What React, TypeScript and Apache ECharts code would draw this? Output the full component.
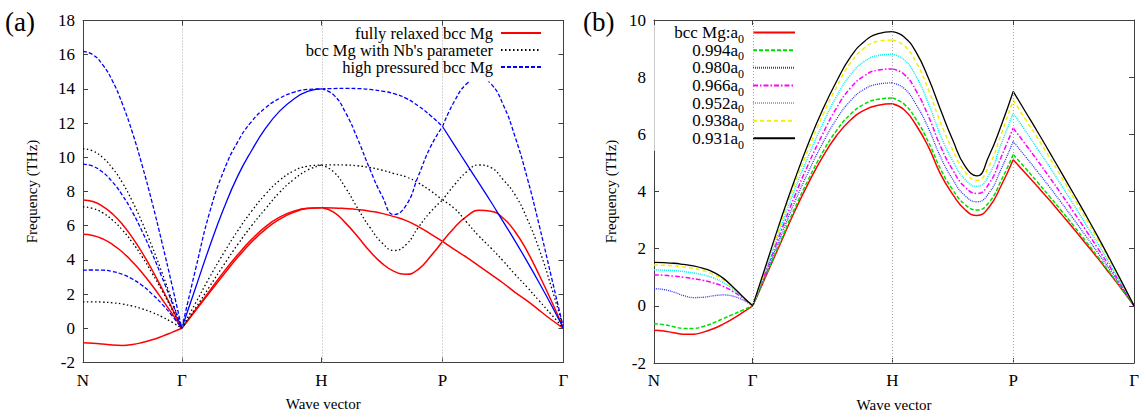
import { useEffect, useRef } from 'react';
import * as echarts from 'echarts';

// ---------- path / tick data ----------
const kPoints = [0, 0.7071, 1.7071, 2.5731, 3.4391];
const kLabels = ['N', 'Γ', 'H', 'P', 'Γ'];
const leftYTicks = { min: -2, max: 18, step: 2 };
const rightYTicks = { min: -2, max: 10, step: 2 };

const LEFT_NAMES = ['fully relaxed bcc Mg', "bcc Mg with Nb's parameter", 'high pressured bcc Mg'];
const RIGHT_NAMES = ['bcc Mg:a0', '0.994a0', '0.980a0', '0.966a0', '0.952a0', '0.938a0', '0.931a0'];

// ---------- panel (a): fully relaxed bcc Mg ----------
const relaxedNG_a = [7.5, 7.41, 7.13, 6.68, 6.07, 5.3, 4.41, 3.41, 2.32, 1.18, 0];
const relaxedNG_b = [5.5, 5.43, 5.23, 4.9, 4.45, 3.89, 3.23, 2.5, 1.7, 0.87, 0];
const relaxedNG_c = [-0.85, -0.87, -0.92, -0.98, -1.0, -0.95, -0.83, -0.67, -0.47, -0.24, 0];
const relaxedGH_a = [0, 1.1, 2.2, 3.3, 4.3, 5.2, 5.95, 6.5, 6.85, 7.02, 7.05];
const relaxedGH_b = [0, 1.05, 2.1, 3.15, 4.15, 5.05, 5.8, 6.38, 6.78, 7.0, 7.05];
const relaxedHP_a = [7.05, 7.04, 7.0, 6.94, 6.85, 6.72, 6.53, 6.3, 5.95, 5.52, 5.08];
const relaxedHP_b = [7.05, 6.8, 6.15, 5.35, 4.5, 3.8, 3.33, 3.16, 3.45, 4.2, 5.08];
const relaxedPG_a = [5.08, 4.6, 4.15, 3.65, 3.15, 2.65, 2.1, 1.6, 1.05, 0.5, 0];
const relaxedPG_b = [5.08, 5.9, 6.55, 6.9, 6.85, 6.45, 5.65, 4.5, 3.1, 1.6, 0];

// ---------- panel (a): bcc Mg with Nb's parameter ----------
const nbNG_a = [10.5, 10.37, 9.98, 9.35, 8.5, 7.42, 6.17, 4.77, 3.25, 1.65, 0];
const nbNG_b = [7.1, 7.01, 6.75, 6.32, 5.74, 5.02, 4.17, 3.22, 2.2, 1.12, 0];
const nbNG_c = [1.55, 1.55, 1.53, 1.49, 1.42, 1.3, 1.14, 0.93, 0.67, 0.36, 0];
const nbGH_a = [0, 1.5, 3.0, 4.4, 5.7, 6.85, 7.85, 8.65, 9.2, 9.48, 9.55];
const nbGH_b = [0, 1.2, 2.45, 3.7, 4.9, 6.0, 7.0, 7.95, 8.7, 9.25, 9.55];
const nbHP_a = [9.55, 9.56, 9.55, 9.5, 9.4, 9.25, 9.05, 8.85, 8.5, 8.05, 7.5];
const nbHP_b = [9.55, 9.15, 8.2, 7.0, 5.9, 5.0, 4.55, 4.9, 5.9, 6.8, 7.5];
const nbPG_a = [7.5, 7.0, 6.2, 5.4, 4.7, 3.95, 3.15, 2.4, 1.6, 0.8, 0];
const nbPG_b = [7.5, 8.4, 9.15, 9.55, 9.4, 8.7, 7.8, 6.4, 4.6, 2.4, 0];

// ---------- panel (a): high pressured bcc Mg ----------
const hpNG_a = [16.2, 16.0, 15.4, 14.45, 13.1, 11.45, 9.5, 7.35, 5.0, 2.55, 0];
const hpNG_b = [9.6, 9.48, 9.12, 8.55, 7.77, 6.8, 5.65, 4.37, 2.98, 1.52, 0];
const hpNG_c = [3.4, 3.41, 3.4, 3.32, 3.15, 2.88, 2.5, 2.0, 1.42, 0.75, 0];
const hpGH_a = [0, 3.5, 6.8, 9.2, 10.9, 12.1, 12.9, 13.45, 13.8, 13.97, 14.0];
const hpGH_b = [0, 2.4, 4.8, 7.0, 8.9, 10.4, 11.7, 12.7, 13.4, 13.85, 14.0];
const hpHP_a = [14.0, 14.02, 14.03, 14.02, 13.97, 13.87, 13.72, 13.45, 13.0, 12.45, 11.8];
const hpHP_b = [14.0, 13.65, 12.6, 11.05, 9.3, 7.75, 6.65, 7.2, 8.9, 10.6, 11.8];
const hpPG_a = [11.8, 10.7, 9.6, 8.5, 7.4, 6.25, 5.1, 3.9, 2.65, 1.35, 0];
const hpPG_b = [11.8, 13.3, 14.3, 14.65, 14.3, 13.1, 11.2, 8.8, 6.0, 3.0, 0];

// ---------- panel (b): one branch per lattice parameter, per path segment ----------
const a0_NG = [-0.85, -0.88, -0.94, -0.99, -0.99, -0.92, -0.8, -0.64, -0.45, -0.23, 0];
const a0_GH = [0, 1.1, 2.2, 3.3, 4.3, 5.2, 5.95, 6.5, 6.85, 7.02, 7.07];
const a0_HP = [7.07, 6.85, 6.3, 5.55, 4.6, 3.9, 3.37, 3.16, 3.45, 4.2, 5.11];
const a0_PG = [5.11, 4.65, 4.18, 3.7, 3.2, 2.7, 2.18, 1.66, 1.12, 0.57, 0];

const a994_NG = [-0.62, -0.66, -0.73, -0.79, -0.79, -0.72, -0.6, -0.45, -0.3, -0.15, 0];
const a994_GH = [0, 1.13, 2.27, 3.4, 4.43, 5.36, 6.13, 6.7, 7.06, 7.23, 7.27];
const a994_HP = [7.27, 7.05, 6.5, 5.72, 4.78, 4.06, 3.55, 3.35, 3.62, 4.38, 5.29];
const a994_PG = [5.29, 4.82, 4.33, 3.83, 3.32, 2.8, 2.26, 1.72, 1.16, 0.59, 0];

const a980_NG = [0.6, 0.57, 0.48, 0.36, 0.29, 0.3, 0.35, 0.38, 0.34, 0.2, 0];
const a980_GH = [0, 1.2, 2.42, 3.62, 4.7, 5.68, 6.53, 7.17, 7.58, 7.76, 7.8];
const a980_HP = [7.8, 7.6, 7.02, 6.2, 5.2, 4.42, 3.86, 3.64, 3.95, 4.78, 5.75];
const a980_PG = [5.75, 5.23, 4.7, 4.16, 3.6, 3.03, 2.45, 1.86, 1.26, 0.64, 0];

const a966_NG = [1.08, 1.07, 1.04, 1.0, 0.95, 0.89, 0.8, 0.68, 0.5, 0.27, 0];
const a966_GH = [0, 1.28, 2.57, 3.83, 4.97, 6.0, 6.92, 7.62, 8.05, 8.25, 8.29];
const a966_HP = [8.29, 8.09, 7.5, 6.62, 5.57, 4.75, 4.16, 3.93, 4.27, 5.2, 6.22];
const a966_PG = [6.22, 5.66, 5.09, 4.5, 3.9, 3.28, 2.65, 2.01, 1.36, 0.69, 0];

const a952_NG = [1.26, 1.25, 1.23, 1.2, 1.15, 1.08, 0.98, 0.82, 0.58, 0.3, 0];
const a952_GH = [0, 1.35, 2.72, 4.05, 5.25, 6.35, 7.32, 8.08, 8.55, 8.76, 8.8];
const a952_HP = [8.8, 8.6, 8.0, 7.07, 5.95, 5.07, 4.43, 4.18, 4.58, 5.65, 6.74];
const a952_PG = [6.74, 6.13, 5.5, 4.87, 4.21, 3.54, 2.86, 2.17, 1.47, 0.74, 0];

const a938_NG = [1.43, 1.42, 1.4, 1.36, 1.31, 1.23, 1.1, 0.92, 0.63, 0.31, 0];
const a938_GH = [0, 1.43, 2.87, 4.25, 5.5, 6.65, 7.65, 8.5, 9.02, 9.26, 9.3];
const a938_HP = [9.3, 9.1, 8.5, 7.55, 6.4, 5.45, 4.7, 4.39, 4.9, 6.0, 7.2];
const a938_PG = [7.2, 6.54, 5.88, 5.2, 4.5, 3.78, 3.06, 2.32, 1.57, 0.79, 0];

const a931_NG = [1.52, 1.51, 1.49, 1.45, 1.4, 1.31, 1.18, 0.97, 0.66, 0.32, 0];
const a931_GH = [0, 1.5, 3.0, 4.4, 5.7, 6.85, 7.85, 8.7, 9.25, 9.52, 9.59];
const a931_HP = [9.59, 9.4, 8.85, 7.95, 6.85, 5.8, 4.9, 4.55, 5.25, 6.3, 7.5];
const a931_PG = [7.5, 6.8, 6.1, 5.38, 4.65, 3.92, 3.18, 2.42, 1.63, 0.82, 0];

// ---------- styles ----------
const FONT = "'Liberation Serif', 'Times New Roman', serif";
const AXIS_COLOR = '#404040';

const stRed = { color: '#ff0000', width: 1.5, type: 'solid' as any };
const stBlackDot = { color: '#000000', width: 1.3, type: [1.5, 2.5] as any };
const stBlueDash = { color: '#0000ff', width: 1.3, type: [4, 2] as any };
const stBlueSolid = { color: '#0000ff', width: 1.3, type: 'solid' as any };

const rightStyles = [
  { color: '#ff0000', width: 1.5, type: 'solid' as any },
  { color: '#00dd00', width: 1.5, type: [4, 2] as any },
  { color: '#3333ff', width: 1.3, type: [1, 1] as any },
  { color: '#ff00ff', width: 1.5, type: [5, 2, 1.5, 2] as any },
  { color: '#00f0f0', width: 1.5, type: [1, 1] as any },
  { color: '#f5ee00', width: 1.5, type: [4, 3] as any },
  { color: '#000000', width: 1.3, type: 'solid' as any },
];

function segData(seg: number, vals: number[]) {
  const a = kPoints[seg];
  const b = kPoints[seg + 1];
  const n = vals.length - 1;
  return vals.map((v, i) => [a + ((b - a) * i) / n, v]);
}

type Branch = { name: string; seg: number; vals: number[]; style: any };

const leftBranches: Branch[] = [
  { name: LEFT_NAMES[0], seg: 0, vals: relaxedNG_a, style: stRed },
  { name: LEFT_NAMES[0], seg: 0, vals: relaxedNG_b, style: stRed },
  { name: LEFT_NAMES[0], seg: 0, vals: relaxedNG_c, style: stRed },
  { name: LEFT_NAMES[0], seg: 1, vals: relaxedGH_a, style: stRed },
  { name: LEFT_NAMES[0], seg: 1, vals: relaxedGH_b, style: stRed },
  { name: LEFT_NAMES[0], seg: 2, vals: relaxedHP_a, style: stRed },
  { name: LEFT_NAMES[0], seg: 2, vals: relaxedHP_b, style: stRed },
  { name: LEFT_NAMES[0], seg: 3, vals: relaxedPG_a, style: stRed },
  { name: LEFT_NAMES[0], seg: 3, vals: relaxedPG_b, style: stRed },
  { name: LEFT_NAMES[1], seg: 0, vals: nbNG_a, style: stBlackDot },
  { name: LEFT_NAMES[1], seg: 0, vals: nbNG_b, style: stBlackDot },
  { name: LEFT_NAMES[1], seg: 0, vals: nbNG_c, style: stBlackDot },
  { name: LEFT_NAMES[1], seg: 1, vals: nbGH_a, style: stBlackDot },
  { name: LEFT_NAMES[1], seg: 1, vals: nbGH_b, style: stBlackDot },
  { name: LEFT_NAMES[1], seg: 2, vals: nbHP_a, style: stBlackDot },
  { name: LEFT_NAMES[1], seg: 2, vals: nbHP_b, style: stBlackDot },
  { name: LEFT_NAMES[1], seg: 3, vals: nbPG_a, style: stBlackDot },
  { name: LEFT_NAMES[1], seg: 3, vals: nbPG_b, style: stBlackDot },
  { name: LEFT_NAMES[2], seg: 0, vals: hpNG_a, style: stBlueDash },
  { name: LEFT_NAMES[2], seg: 0, vals: hpNG_b, style: stBlueDash },
  { name: LEFT_NAMES[2], seg: 0, vals: hpNG_c, style: stBlueDash },
  { name: LEFT_NAMES[2], seg: 1, vals: hpGH_a, style: stBlueDash },
  { name: LEFT_NAMES[2], seg: 1, vals: hpGH_b, style: stBlueSolid },
  { name: LEFT_NAMES[2], seg: 2, vals: hpHP_a, style: stBlueDash },
  { name: LEFT_NAMES[2], seg: 2, vals: hpHP_b, style: stBlueDash },
  { name: LEFT_NAMES[2], seg: 3, vals: hpPG_a, style: stBlueSolid },
  { name: LEFT_NAMES[2], seg: 3, vals: hpPG_b, style: stBlueDash },
];

const rightSets = [
  [a0_NG, a0_GH, a0_HP, a0_PG],
  [a994_NG, a994_GH, a994_HP, a994_PG],
  [a980_NG, a980_GH, a980_HP, a980_PG],
  [a966_NG, a966_GH, a966_HP, a966_PG],
  [a952_NG, a952_GH, a952_HP, a952_PG],
  [a938_NG, a938_GH, a938_HP, a938_PG],
  [a931_NG, a931_GH, a931_HP, a931_PG],
];

const rightBranches: Branch[] = [];
rightSets.forEach((segs, i) => {
  segs.forEach((vals, s) => {
    rightBranches.push({ name: RIGHT_NAMES[i], seg: s, vals, style: rightStyles[i] });
  });
});

const gridMark = {
  silent: true,
  symbol: 'none',
  label: { show: false },
  lineStyle: { color: '#a8a8a8', type: [1, 2], width: 1 },
  data: kPoints.slice(1, 4).map((k) => ({ xAxis: k })),
};

function makeSeries(branches: Branch[], axisBase: number) {
  return branches.map((b, i) => ({
    type: 'line',
    name: b.name,
    xAxisIndex: axisBase,
    yAxisIndex: axisBase,
    data: segData(b.seg, b.vals),
    symbol: 'none',
    showSymbol: false,
    smooth: 0.5,
    silent: true,
    color: b.style.color,
    lineStyle: { ...b.style },
    markLine: i === 0 ? gridMark : undefined,
  }));
}

function labelFor(v: number) {
  let best = 0;
  kPoints.forEach((k, i) => {
    if (Math.abs(k - v) < Math.abs(kPoints[best] - v)) best = i;
  });
  return kLabels[best];
}

function xAxes(gridIndex: number) {
  return [
    {
      type: 'value',
      gridIndex,
      position: 'bottom',
      min: kPoints[0],
      max: kPoints[kPoints.length - 1],
      axisLine: { show: true, onZero: false, lineStyle: { color: AXIS_COLOR, width: 1 } },
      axisTick: { show: true, inside: true, length: 5, customValues: kPoints, lineStyle: { color: AXIS_COLOR } },
      axisLabel: {
        customValues: kPoints,
        formatter: (v: number) => labelFor(v),
        fontFamily: FONT,
        fontSize: 17,
        color: '#000',
        margin: 9,
        showMinLabel: true,
        showMaxLabel: true,
      },
      splitLine: { show: false },
      name: 'Wave vector',
      nameLocation: 'middle',
      nameGap: 34,
      nameTextStyle: { fontFamily: FONT, fontSize: 15, color: '#000' },
    },
    {
      type: 'value',
      gridIndex,
      position: 'top',
      z: 10,
      min: kPoints[0],
      max: kPoints[kPoints.length - 1],
      axisLine: { show: true, onZero: false, lineStyle: { color: AXIS_COLOR, width: 1 } },
      axisTick: { show: true, inside: true, length: 5, customValues: kPoints, lineStyle: { color: AXIS_COLOR } },
      axisLabel: { show: false },
      splitLine: { show: false },
    },
  ];
}

function yAxes(gridIndex: number, t: { min: number; max: number; step: number }, nameGap: number) {
  return [
    {
      type: 'value',
      gridIndex,
      position: 'left',
      min: t.min,
      max: t.max,
      interval: t.step,
      axisLine: { show: true, onZero: false, lineStyle: { color: AXIS_COLOR, width: 1 } },
      axisTick: { show: true, inside: true, length: 5, lineStyle: { color: AXIS_COLOR } },
      axisLabel: { fontFamily: FONT, fontSize: 17, color: '#000', margin: 8 },
      splitLine: { show: false },
      name: 'Frequency (THz)',
      nameLocation: 'middle',
      nameGap,
      nameTextStyle: { fontFamily: FONT, fontSize: 15, color: '#000' },
    },
    {
      type: 'value',
      gridIndex,
      position: 'right',
      z: 10,
      min: t.min,
      max: t.max,
      interval: t.step,
      axisLine: { show: true, onZero: false, lineStyle: { color: AXIS_COLOR, width: 1 } },
      axisTick: { show: true, inside: true, length: 5, lineStyle: { color: AXIS_COLOR } },
      axisLabel: { show: false },
      splitLine: { show: false },
    },
  ];
}

const hiddenSymbol = { color: 'rgba(0,0,0,0)', borderWidth: 0, opacity: 0 };

export default function App() {
  const ref = useRef<HTMLDivElement>(null);
  useEffect(() => {
    if (!ref.current) return;
    const chart = echarts.init(ref.current, undefined, { renderer: 'svg' });
    const xa = [...xAxes(0), ...xAxes(1)];
    const ya = [...yAxes(0, leftYTicks, 44), ...yAxes(1, rightYTicks, 36)];
    const leftSeries = makeSeries(leftBranches, 0);
    const rightSeries = makeSeries(rightBranches, 2);
    chart.setOption({
      animation: false,
      backgroundColor: '#ffffff',
      textStyle: { fontFamily: FONT },
      grid: [
        { left: 83, top: 20.5, width: 480.5, height: 342 },
        { left: 654, top: 20, width: 482, height: 344 },
      ],
      xAxis: xa,
      yAxis: ya,
      legend: [
        {
          data: LEFT_NAMES,
          orient: 'vertical',
          align: 'right',
          right: 594,
          top: 21.5,
          itemWidth: 40,
          itemHeight: 10,
          itemGap: 0,
          padding: [3, 6, 6, 8],
          backgroundColor: '#ffffff',
          selectedMode: false,
          itemStyle: hiddenSymbol,
          textStyle: { fontFamily: FONT, fontSize: 16.5, lineHeight: 15.5, color: '#000', padding: [0, 3, 0, 0] },
        },
        {
          data: RIGHT_NAMES,
          orient: 'vertical',
          align: 'right',
          right: 341,
          top: 22,
          itemWidth: 42,
          itemHeight: 10,
          itemGap: -3.2,
          padding: [2, 5, 0, 20],
          backgroundColor: '#ffffff',
          selectedMode: false,
          itemStyle: hiddenSymbol,
          formatter: (name: string) => name.replace(/a0$/, 'a{sub|0}'),
          textStyle: {
            fontFamily: FONT,
            fontSize: 17,
            lineHeight: 16.67,
            color: '#000',
            padding: [0, 4, 0, 0],
            rich: {
              sub: {
                fontFamily: FONT,
                fontSize: 12,
                lineHeight: 4,
                height: 4,
                verticalAlign: 'bottom',
                color: '#000',
              },
            },
          },
        },
      ],
      graphic: [
        { type: 'text', left: 5, top: 8, style: { text: '(a)', font: `27px ${FONT}`, fill: '#000' } },
        { type: 'text', left: 583, top: 8, style: { text: '(b)', font: `27px ${FONT}`, fill: '#000' } },
      ],
      series: [...leftSeries, ...rightSeries],
    });
    return () => chart.dispose();
  }, []);
  return (
    <div
      ref={ref}
      style={{ position: 'fixed', left: 0, top: 0, width: 1142, height: 417, background: '#fff' }}
    />
  );
}
